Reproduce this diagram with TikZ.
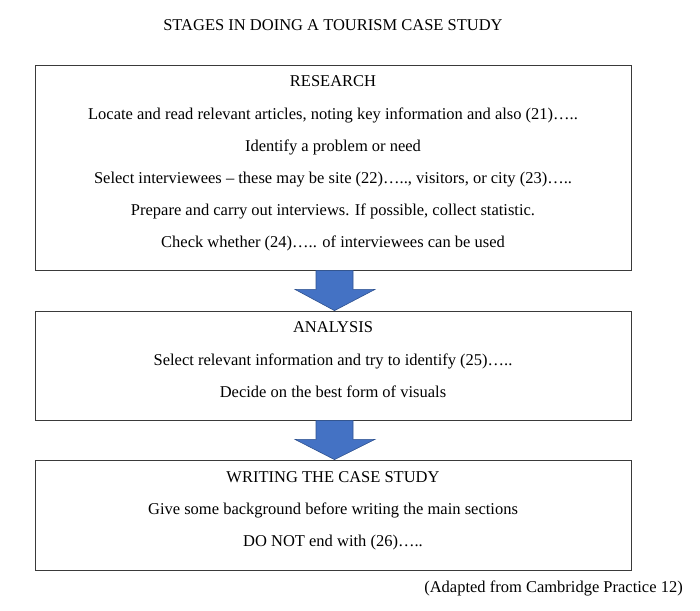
\documentclass[tikz,border=0pt]{standalone}
\usepackage{fontspec}
\setmainfont{Liberation Serif}
\usetikzlibrary{calc}
\definecolor{cframe}{HTML}{3a3a3a}
\definecolor{cblue}{HTML}{4472C4}
\definecolor{cblueedge}{HTML}{2F528F}

\begin{document}
\begin{tikzpicture}[x=1pt,y=-1pt,
  stagebox/.style={draw=cframe,line width=0.8pt,minimum width=596pt,inner sep=0pt},
  txt/.style={font=\fontsize{16.5}{18}\selectfont,inner sep=0pt,anchor=base},
  blockarrow/.style={fill=cblue,draw=cblueedge,line width=0.6pt}]
  \useasboundingbox (0,0) rectangle (700,610);

  \node[txt] (title) at (333,30.5) {STAGES IN DOING A TOURISM CASE STUDY};

  % stage boxes
  \node[stagebox,minimum height=205pt] (research) at (333,167.5) {};
  \node[stagebox,minimum height=109pt] (analysis) at (333,365.5) {};
  \node[stagebox,minimum height=110pt] (writing) at (333,515) {};

  % research
  \node[txt] (r0) at (333,86.5) {RESEARCH};
  \node[txt] (r1) at (333,119.5) {Locate and read relevant articles, noting key information and also (21)…..};
  \node[txt] (r2) at (333,151.5) {Identify a problem or need};
  \node[txt] (r3) at (333,183.5) {Select interviewees – these may be site (22)….., visitors, or city (23)…..};
  \node[txt] (r4) at (333,215.5) {Prepare and carry out interviews. If possible, collect statistic.};
  \node[txt] (r5) at (333,247.5) {Check whether (24)….. of interviewees can be used};

  % analysis
  \node[txt] (a0) at (333,332.5) {ANALYSIS};
  \node[txt] (a1) at (333,365.5) {Select relevant information and try to identify (25)…..};
  \node[txt] (a2) at (333,397.5) {Decide on the best form of visuals};

  % writing
  \node[txt] (w0) at (333,482.5) {WRITING THE CASE STUDY};
  \node[txt] (w1) at (333,514.5) {Give some background before writing the main sections};
  \node[txt] (w2) at (333,546.5) {DO NOT end with (26)…..};

  \node[txt] (src) at (553.5,592.5) {(Adapted from Cambridge Practice 12)};

  % block arrows
  \draw[blockarrow] ($(research.south)+(-17,0)$) -- ++(0,19) -- ++(-21,0)
    -- ($(analysis.north)+(1.5,0)$) -- ($(research.south)+(42,19)$)
    -- ++(-22,0) -- ($(research.south)+(20,0)$) -- cycle;
  \draw[blockarrow] ($(analysis.south)+(-17,0)$) -- ++(0,19) -- ++(-21,0)
    -- ($(writing.north)+(1.5,0)$) -- ($(analysis.south)+(42,19)$)
    -- ++(-22,0) -- ($(analysis.south)+(20,0)$) -- cycle;
\end{tikzpicture}
\end{document}
